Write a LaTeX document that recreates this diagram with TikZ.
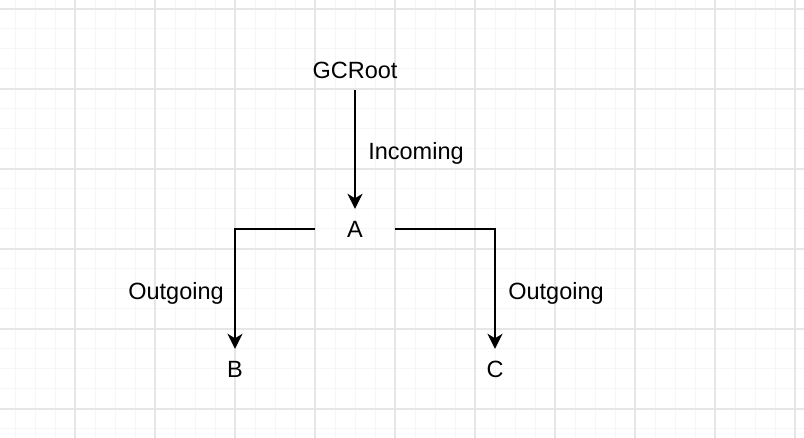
\documentclass[tikz,border=0pt]{standalone}
\usepackage{fontspec}
\setmainfont{Liberation Sans}
\usetikzlibrary{arrows.meta}
\definecolor{minorgrid}{HTML}{F6F6F6}
\definecolor{majorgrid}{HTML}{E6E6E6}
\tikzset{
  box/.style={minimum width=80pt, minimum height=40pt, inner sep=0pt, font=\fontsize{23.5}{28}\selectfont},
  lbl/.style={inner sep=0pt, font=\fontsize{23.5}{28}\selectfont, text height=17pt, text depth=5pt},
  conn/.style={line width=2pt, -{Stealth[length=15pt,width=15pt,inset=4.5pt]}},
}
\begin{document}
\begin{tikzpicture}[x=1pt,y=-1pt]
\fill[white] (0,0) rectangle (804,438);
\useasboundingbox (0,0) rectangle (804,438);
% minor grid
\foreach \x in {15,35,...,795} \draw[minorgrid, line width=1pt] (\x,0) -- (\x,438);
\foreach \y in {9,29,...,429} \draw[minorgrid, line width=1pt] (0,\y) -- (804,\y);
% major grid
\foreach \x in {75,155,...,795} \draw[majorgrid, line width=1.2pt] (\x,0) -- (\x,438);
\foreach \y in {9,89,...,409} \draw[majorgrid, line width=1.2pt] (0,\y) -- (804,\y);
% nodes
\node[box] (gc) at (355,70) {GCRoot};
\node[box] (a) at (355,229) {A};
\node[box] (b) at (235,369) {B};
\node[box] (c) at (495,369) {C};
% connectors
\draw[conn] (gc.south) -- (a.north);
\draw[conn] (a.west) -| (b.north);
\draw[conn] (a.east) -| (c.north);
% labels
\node[lbl] (inc) at (416,154) {Incoming};
\node[lbl] (outl) at (176,294) {Outgoing};
\node[lbl] (outr) at (556,294) {Outgoing};
\end{tikzpicture}
\end{document}
